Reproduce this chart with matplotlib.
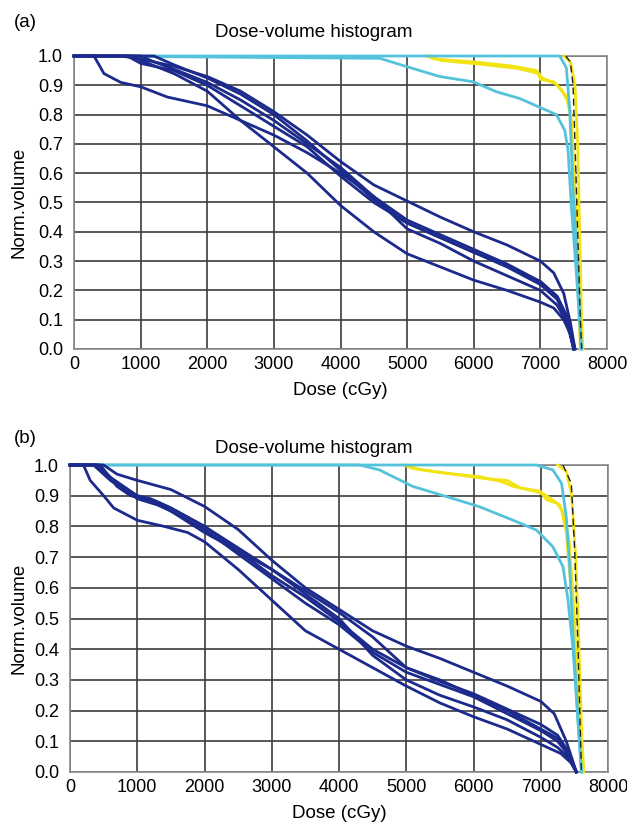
import matplotlib
matplotlib.use("Agg")

import matplotlib.pyplot as plt
from matplotlib.ticker import FormatStrFormatter

plt.rcParams["font.family"] = ["Liberation Sans", "DejaVu Sans"]

# ==============================
# DATOS  (dosis en cGy, volumen normalizado)
# ==============================
X_TICKS = [0, 1000, 2000, 3000, 4000, 5000, 6000, 7000, 8000]
Y_TICKS = [0.0, 0.1, 0.2, 0.3, 0.4, 0.5, 0.6, 0.7, 0.8, 0.9, 1.0]

# ---- panel (a) : curvas azul marino
a_navy_dose = [
    [0, 700, 1000, 1500, 2000, 2500, 3000, 3500, 4000, 4500, 5000, 5500, 6000, 6500, 7000, 7200, 7350, 7450, 7520],
    [0, 900, 1000, 1500, 2000, 2500, 3000, 3500, 4000, 4500, 5000, 5500, 6000, 6500, 7000, 7200, 7350, 7450, 7500],
    [0, 300, 450, 700, 1000, 1400, 2000, 2500, 3000, 3500, 4000, 4500, 5000, 5500, 6000, 6500, 7000, 7250, 7400, 7500],
    [0, 800, 1000, 1500, 2000, 2500, 3000, 3500, 4000, 4500, 5000, 5500, 6000, 6500, 7000, 7250, 7400, 7500],
    [0, 1000, 1200, 1500, 2000, 2500, 3000, 3500, 4000, 4500, 5000, 5500, 6000, 6500, 7000, 7250, 7400, 7500],
    [0, 1200, 1500, 2000, 2500, 3000, 3500, 4000, 4500, 5000, 5500, 6000, 6500, 7000, 7250, 7400, 7520],
]
a_navy_vol = [
    [1.0, 1.0, 0.99, 0.965, 0.93, 0.88, 0.81, 0.73, 0.64, 0.56, 0.505, 0.45, 0.40, 0.355, 0.30, 0.26, 0.19, 0.09, 0.0],
    [1.0, 1.0, 0.985, 0.94, 0.88, 0.78, 0.69, 0.60, 0.49, 0.40, 0.325, 0.28, 0.235, 0.20, 0.16, 0.14, 0.10, 0.05, 0.0],
    [1.0, 1.0, 0.94, 0.91, 0.895, 0.86, 0.83, 0.78, 0.73, 0.67, 0.60, 0.52, 0.44, 0.39, 0.34, 0.29, 0.23, 0.18, 0.11, 0.0],
    [1.0, 1.0, 0.975, 0.95, 0.90, 0.83, 0.76, 0.69, 0.59, 0.50, 0.43, 0.38, 0.33, 0.28, 0.22, 0.17, 0.10, 0.0],
    [1.0, 1.0, 0.98, 0.955, 0.91, 0.85, 0.78, 0.70, 0.62, 0.52, 0.41, 0.36, 0.30, 0.25, 0.20, 0.15, 0.09, 0.0],
    [1.0, 1.0, 0.97, 0.925, 0.87, 0.80, 0.71, 0.61, 0.51, 0.43, 0.38, 0.33, 0.285, 0.23, 0.18, 0.11, 0.0],
]
# ---- panel (a) : amarillo, cian, discontinua
a_yellow_dose = [
    [5300, 5400, 6000, 6600, 6950, 7000, 7200, 7320, 7400, 7450, 7500, 7550, 7600],
    [5350, 5500, 6100, 6650, 6980, 7030, 7230, 7340, 7410, 7460, 7510, 7560, 7610],
    [7350, 7450, 7520, 7560, 7590, 7620, 7640],
]
a_yellow_vol = [
    [1.0, 0.99, 0.98, 0.965, 0.95, 0.92, 0.912, 0.885, 0.85, 0.80, 0.60, 0.30, 0.0],
    [1.0, 0.985, 0.972, 0.958, 0.94, 0.925, 0.905, 0.875, 0.86, 0.80, 0.60, 0.30, 0.0],
    [1.0, 0.98, 0.90, 0.70, 0.40, 0.10, 0.0],
]
a_cyan_dose = [
    [0, 7290, 7390, 7440, 7490, 7565, 7615],
    [0, 4590, 4990, 5490, 5990, 6340, 6690, 7040, 7240, 7365, 7415, 7465, 7540, 7615],
]
a_cyan_vol = [
    [1.0, 1.0, 0.96, 0.82, 0.54, 0.26, 0.0],
    [1.0, 0.992, 0.964, 0.93, 0.912, 0.878, 0.855, 0.82, 0.80, 0.747, 0.68, 0.486, 0.26, 0.0],
]
a_dash_dose = [7380, 7450, 7490, 7520, 7560, 7600, 7620]
a_dash_vol = [1.0, 0.98, 0.90, 0.70, 0.40, 0.10, 0.0]

# ---- panel (b) : curvas azul marino
b_navy_dose = [
    [0, 500, 700, 1000, 1500, 2000, 2500, 3000, 3500, 4000, 4500, 5000, 5500, 6000, 6500, 7000, 7200, 7380, 7530],
    [0, 200, 300, 500, 650, 1000, 1400, 1750, 2000, 2500, 3000, 3500, 4000, 4500, 5000, 5500, 6000, 6500, 7000, 7300, 7450, 7530],
    [0, 400, 600, 800, 1000, 1200, 1500, 2000, 2500, 3000, 3500, 4000, 4500, 5000, 5500, 6000, 6500, 7000, 7250, 7400, 7530],
    [0, 400, 700, 1000, 1300, 1500, 2000, 2500, 3000, 3500, 4000, 4500, 5000, 5500, 6000, 6500, 7000, 7250, 7400, 7530],
    [0, 450, 700, 900, 1200, 1500, 2000, 2500, 3000, 3500, 4000, 4500, 5000, 5500, 6000, 6500, 7000, 7250, 7400, 7530],
    [0, 350, 600, 800, 1000, 1300, 1500, 2000, 2500, 3000, 3500, 4000, 4500, 5000, 5500, 6000, 6500, 7000, 7250, 7400, 7530],
]
b_navy_vol = [
    [1.0, 1.0, 0.97, 0.95, 0.92, 0.865, 0.79, 0.69, 0.60, 0.53, 0.46, 0.41, 0.37, 0.325, 0.28, 0.23, 0.19, 0.10, 0.0],
    [1.0, 1.0, 0.95, 0.90, 0.86, 0.82, 0.80, 0.78, 0.75, 0.66, 0.56, 0.46, 0.40, 0.34, 0.28, 0.225, 0.18, 0.14, 0.09, 0.06, 0.03, 0.0],
    [1.0, 1.0, 0.96, 0.93, 0.90, 0.89, 0.86, 0.80, 0.72, 0.64, 0.57, 0.49, 0.40, 0.34, 0.295, 0.255, 0.205, 0.155, 0.12, 0.07, 0.0],
    [1.0, 1.0, 0.94, 0.89, 0.87, 0.85, 0.79, 0.71, 0.63, 0.55, 0.48, 0.39, 0.325, 0.285, 0.245, 0.19, 0.135, 0.10, 0.06, 0.0],
    [1.0, 1.0, 0.93, 0.90, 0.885, 0.85, 0.78, 0.72, 0.66, 0.58, 0.50, 0.38, 0.30, 0.25, 0.212, 0.17, 0.113, 0.08, 0.05, 0.0],
    [1.0, 1.0, 0.95, 0.92, 0.90, 0.88, 0.86, 0.80, 0.73, 0.66, 0.59, 0.52, 0.44, 0.34, 0.30, 0.25, 0.20, 0.14, 0.11, 0.06, 0.0],
]
# ---- panel (b) : amarillo, cian, discontinua
b_yellow_dose = [
    [4960, 5100, 5600, 6090, 6430, 6590, 6840, 6990, 7090, 7240, 7310, 7380, 7450, 7520, 7580, 7630],
    [5000, 5200, 5700, 6200, 6500, 6700, 6900, 7050, 7150, 7280, 7340, 7420, 7480, 7540, 7600, 7640],
    [7250, 7380, 7460, 7520, 7570, 7610, 7640],
]
b_yellow_vol = [
    [1.0, 0.989, 0.973, 0.962, 0.945, 0.93, 0.92, 0.915, 0.886, 0.876, 0.853, 0.78, 0.60, 0.35, 0.12, 0.0],
    [1.0, 0.985, 0.97, 0.955, 0.95, 0.925, 0.915, 0.905, 0.89, 0.87, 0.84, 0.76, 0.58, 0.33, 0.10, 0.0],
    [1.0, 0.98, 0.90, 0.70, 0.40, 0.12, 0.0],
]
b_cyan_dose = [
    [0, 6935, 7180, 7310, 7380, 7430, 7480, 7550, 7605],
    [0, 4310, 4600, 5100, 5600, 6090, 6590, 6935, 7180, 7330, 7405, 7480, 7550, 7605],
]
b_cyan_vol = [
    [1.0, 1.0, 0.984, 0.94, 0.83, 0.67, 0.45, 0.18, 0.0],
    [1.0, 1.0, 0.984, 0.93, 0.897, 0.864, 0.82, 0.788, 0.734, 0.669, 0.56, 0.40, 0.18, 0.0],
]
b_dash_dose = [7330, 7455, 7505, 7555, 7605]
b_dash_vol = [1.0, 0.94, 0.72, 0.40, 0.0]

NAVY = "#1c2a8c"
CYAN = "#55c2db"
YELLOW = "#f2e313"

W, H = 627, 827
fig = plt.figure(figsize=(W / 100, H / 100), dpi=100)


def px_box(left, right, top, bottom):
    return [left / W, 1 - bottom / H, (right - left) / W, (bottom - top) / H]


def panel(box, letter, title_y, xlabel_y, navy, yellow, cyan, dash):
    ax = fig.add_axes(px_box(*box))
    left, right, top, bottom = box

    for d, v in zip(*yellow):
        ax.plot(d, v, color=YELLOW, lw=2.0, zorder=3, clip_on=False)
    for d, v in zip(*cyan):
        ax.plot(d, v, color=CYAN, lw=2.0, zorder=4, clip_on=False)
    for d, v in zip(*navy):
        ax.plot(d, v, color=NAVY, lw=2.0, zorder=5, clip_on=False)
    ax.plot(dash[0], dash[1], color="#222222", lw=1.0, ls=(0, (5, 3)), zorder=6)

    ax.set_xlim(0, 8000)
    ax.set_ylim(0, 1.0)
    ax.set_xticks(X_TICKS)
    ax.set_yticks(Y_TICKS)
    ax.yaxis.set_major_formatter(FormatStrFormatter("%.1f"))
    ax.tick_params(length=0, labelsize=13, pad=5)
    ax.tick_params(axis="y", pad=8)
    ax.grid(True, color="#3c3c3c", lw=1.2)
    ax.set_axisbelow(True)
    for sp in ax.spines.values():
        sp.set_color("#8a8a8a")
        sp.set_linewidth(1.2)

    ax.set_xlabel("Dose (cGy)", fontsize=13.5, va="center")
    ax.xaxis.set_label_coords(0.5, (bottom - xlabel_y) / (bottom - top))
    ax.set_ylabel("Norm.volume", fontsize=13.5, va="center")
    ax.yaxis.set_label_coords((19 - left) / (right - left), 0.5)

    fig.text(314 / W, 1 - title_y / H, "Dose-volume histogram", fontsize=13.5,
             ha="center", va="baseline")
    fig.text(14 / W, 1 - (title_y - 10) / H, letter, fontsize=13.5,
             ha="left", va="baseline")
    return ax


panel((74, 607, 56, 349), "(a)", 37, 391,
      (a_navy_dose, a_navy_vol), (a_yellow_dose, a_yellow_vol),
      (a_cyan_dose, a_cyan_vol), (a_dash_dose, a_dash_vol))
panel((70, 608, 465, 772), "(b)", 453, 814,
      (b_navy_dose, b_navy_vol), (b_yellow_dose, b_yellow_vol),
      (b_cyan_dose, b_cyan_vol), (b_dash_dose, b_dash_vol))

fig.savefig("out.png", dpi=100)
plt.close(fig)
